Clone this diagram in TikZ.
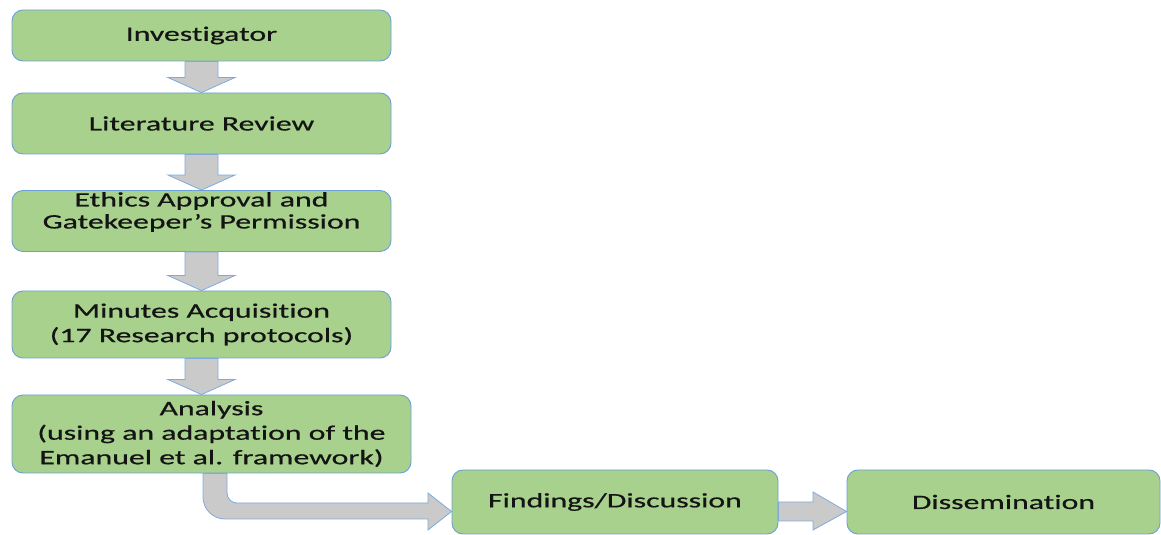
\documentclass[tikz,border=0pt]{standalone}
\usepackage{fontspec}
\newfontfamily\boxfont[FakeStretch=1.55,FakeBold=0.6,Ligatures=NoCommon]{Carlito}
\usetikzlibrary{calc}
\definecolor{boxfill}{HTML}{A9D18E}
\definecolor{boxline}{HTML}{6A9FD8}
\definecolor{arrfill}{HTML}{CACACA}
\definecolor{arrline}{HTML}{7FAAE0}
\definecolor{txt}{HTML}{141414}
\begin{document}
\begin{tikzpicture}[x=1pt,y=1pt,
  stepbox/.style={draw=boxline, line width=0.9pt, fill=boxfill, rounded corners=11pt,
     inner sep=0pt, align=center, text=txt, font=\boxfont\fontsize{20.5}{24.5}\selectfont},
  boxtext/.style={inner sep=0pt, align=center, text=txt, font=\boxfont\fontsize{20.5}{22}\selectfont},
  blockarr/.style={draw=arrline, line width=0.8pt, fill=arrfill, line join=miter}]
\useasboundingbox (0,0) rectangle (1161,535);
\fill[white] (0,0) rectangle (1161,535);

\node[stepbox, minimum width=379pt, minimum height=51pt] (b1) at (201.5,499.5) {Investigator};
\node[stepbox, minimum width=379pt, minimum height=61pt] (b2) at (201.5,411.5) {Literature Review};
\node[stepbox, minimum width=379pt, minimum height=61pt] (b3) at (201.5,314) {};
\node[boxtext] (b3t) at ($(b3.center)+(0,9)$) {Ethics Approval and\\Gatekeeper’s Permission};
\node[stepbox, minimum width=379pt, minimum height=67pt] (b4) at (201.5,210.5) {Minutes Acquisition\\(17 Research protocols)};
\node[stepbox, minimum width=399pt, minimum height=78pt] (b5) at (211.5,101) {Analysis\\(using an adaptation of the\\Emanuel et al. framework)};
\node[stepbox, minimum width=326pt, minimum height=64pt] (b6) at (615,33) {Findings/Discussion};
\node[stepbox, minimum width=313pt, minimum height=64pt] (b7) at (1003.5,33) {Dissemination};

% vertical block arrows
\foreach \a/\b in {b1/b2,b2/b3,b3/b4,b4/b5}{
  \draw[blockarr] ($(\a.south)+(-16.5,0)$) -- ($(\a.south |- \b.north)+(-16.5,15)$)
     -- ($(\a.south |- \b.north)+(-33.5,15)$) -- (\a.south |- \b.north)
     -- ($(\a.south |- \b.north)+(33.5,15)$) -- ($(\a.south |- \b.north)+(16.5,15)$)
     -- ($(\a.south)+(16.5,0)$) -- cycle;
}

% bent arrow from Analysis to Findings
\coordinate (bs) at (b5.south -| 215,0);
\draw[blockarr] ($(bs)+(-12,0)$) -- (203,38) arc[start angle=180, end angle=270, radius=22]
   -- (428,16) -- (428,5) -- (b6.west |- 0,23.5) -- (428,42) -- (428,32) -- (237,32)
   arc[start angle=270, end angle=180, radius=10] -- ($(bs)+(12,0)$) -- cycle;

% right arrow Findings -> Dissemination
\draw[blockarr] (b6.east |- 0,33) -- (813,33) -- (813,43) -- (b7.west |- 0,23.5)
   -- (813,5) -- (813,14) -- (b6.east |- 0,14) -- cycle;
\end{tikzpicture}
\end{document}
